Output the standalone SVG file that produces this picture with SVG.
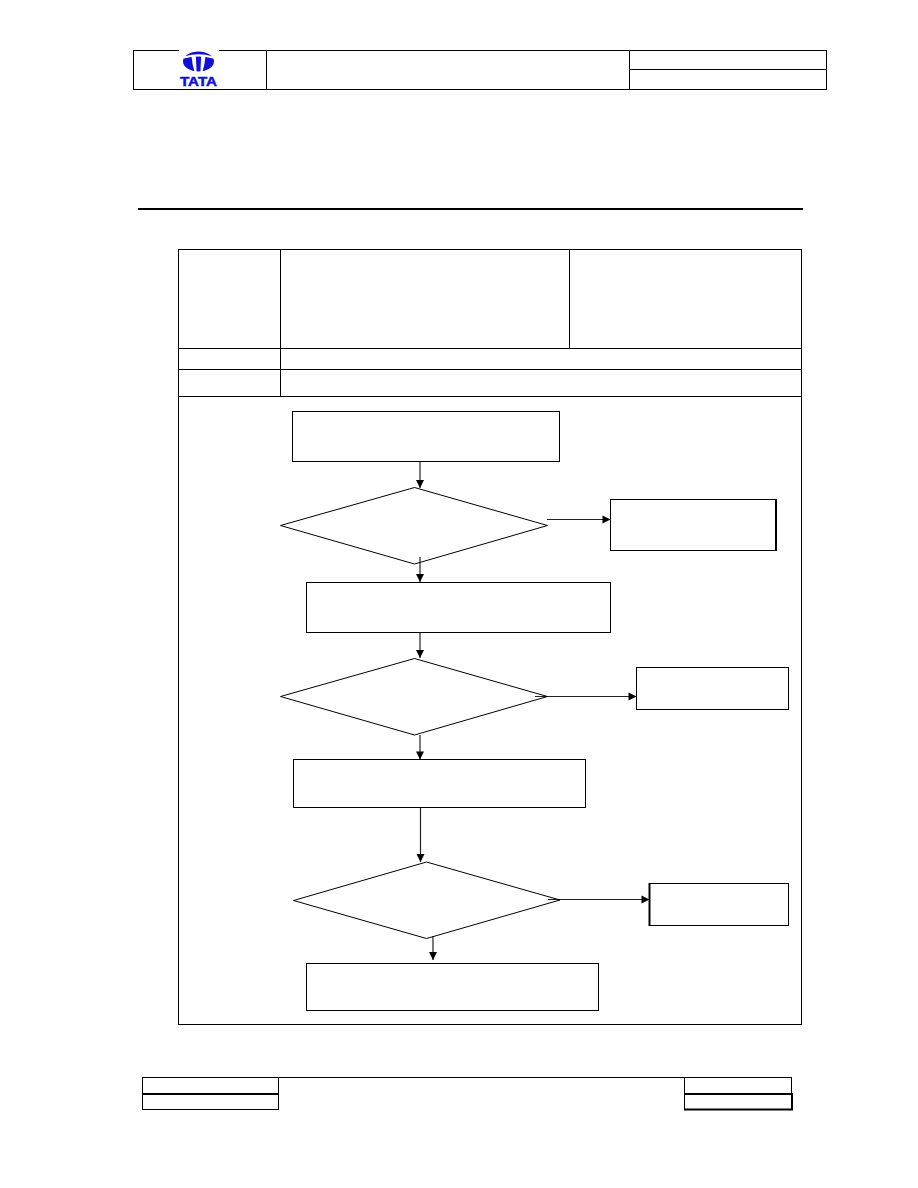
<svg xmlns="http://www.w3.org/2000/svg" width="918" height="1188" viewBox="0 0 918 1188">
  <style>
    .frame { fill: none; stroke: #000; stroke-width: 1; }
    .node { fill: none; stroke: #000; stroke-width: 1; }
    .edge { fill: none; stroke: #222; stroke-width: 1.2; marker-end: url(#head); }
    .logo { fill: #1010dc; }
    .cut { fill: #fff; }
  </style>
  <defs>
    <marker id="head" markerUnits="userSpaceOnUse" markerWidth="10" markerHeight="10" refX="9" refY="5" orient="auto">
      <path d="M1 1 L9 5 L1 9 Z" fill="#000"/>
    </marker>
  </defs>
  <rect width="918" height="1188" fill="#fff"/>

  <!-- page header block -->
  <g id="header">
    <rect class="frame" x="133.5" y="50.5" width="693" height="39"/>
    <path class="frame" d="M266.5 50V90 M629.5 50V90 M630 69.5H827"/>
  </g>
  <g id="logo">
    <rect x="179" y="48" width="40" height="40" fill="#fff"/>
    <ellipse class="logo" cx="198.5" cy="61.5" rx="15.5" ry="10"/>
    <!-- curved bar of the emblem, with two slits either side of the stem -->
    <path class="cut" d="M184 56.5 Q198.5 52 213 56.5 L213 58.4 Q198.5 54.4 184 58.4 Z"/>
    <path class="cut" d="M191.5 56 L195.8 55 L196.6 72 L194.6 72 Q192 64 191.5 56 Z M205.5 56 L201.2 55 L200.4 72 L202.4 72 Q205 64 205.5 56 Z"/>
    <text x="180" y="86" font-family="'Liberation Sans', Arial, sans-serif" font-size="13.5" font-weight="700" fill="#1010dc" stroke="#1010dc" stroke-width="0.5" textLength="37" lengthAdjust="spacingAndGlyphs">TATA</text>
  </g>

  <!-- heading rule -->
  <rect id="rule" x="138" y="208" width="665" height="2" fill="#000"/>

  <!-- procedure table -->
  <g id="table">
    <rect class="frame" x="178.5" y="249.5" width="623" height="775"/>
    <path class="frame" d="M280.5 250V397 M569.5 250V349 M179 348.5H802 M179 369.5H802 M179 396.5H802"/>
  </g>

  <!-- flow connectors -->
  <g id="connectors">
    <path class="edge" d="M420 462V488"/>
    <path class="edge" d="M420 557V582"/>
    <path class="edge" d="M547 519.5H610.5"/>
    <path class="edge" d="M420 633V658"/>
    <path class="edge" d="M420 735V759.5"/>
    <path class="edge" d="M535 696.5H636.5"/>
    <path class="edge" d="M420.5 808V862"/>
    <path class="edge" d="M433 936V960"/>
    <path class="edge" d="M548 899.5H649.5"/>
  </g>

  <g id="box-1"><rect class="node" x="292.5" y="411.5" width="267" height="50"/></g>
  <g id="decision-1"><polygon class="node" points="280.5,525.5 414.5,487.5 547.5,525.5 414.5,564"/></g>
  <g id="box-1-side">
    <rect class="node" x="610.5" y="499.5" width="165" height="51"/>
    <path d="M776 499V551" stroke="#000" stroke-width="2"/>
  </g>
  <g id="box-2"><rect class="node" x="306.5" y="582.5" width="304" height="50"/></g>
  <g id="decision-2"><polygon class="node" points="280.5,696.5 414.5,658.5 547.5,696.5 414.5,735"/></g>
  <g id="box-2-side"><rect class="node" x="636.5" y="667.5" width="152" height="42"/></g>
  <g id="box-3"><rect class="node" x="293.5" y="759.5" width="292" height="48"/></g>
  <g id="decision-3"><polygon class="node" points="293.5,900.5 426.5,862 560,900 426.5,938.5"/></g>
  <g id="box-3-side">
    <rect class="node" x="649.5" y="883.5" width="139" height="42"/>
    <path d="M649.5 883V926" stroke="#000" stroke-width="2"/>
  </g>
  <g id="box-4"><rect class="node" x="306.5" y="963.5" width="292" height="47"/></g>

  <!-- page footer block -->
  <g id="footer">
    <path class="frame" d="M142 1077.5H792"/>
    <rect class="frame" x="142.5" y="1077.5" width="136" height="32"/>
    <rect x="142" y="1093" width="137" height="2" fill="#000"/>
    <rect class="frame" x="684.5" y="1077.5" width="107" height="16"/>
    <rect class="frame" x="684.5" y="1093.5" width="107" height="16"/>
    <path d="M684 1094H792 M684 1109.5H793 M792 1093V1110" fill="none" stroke="#000" stroke-width="2"/>
  </g>
</svg>
